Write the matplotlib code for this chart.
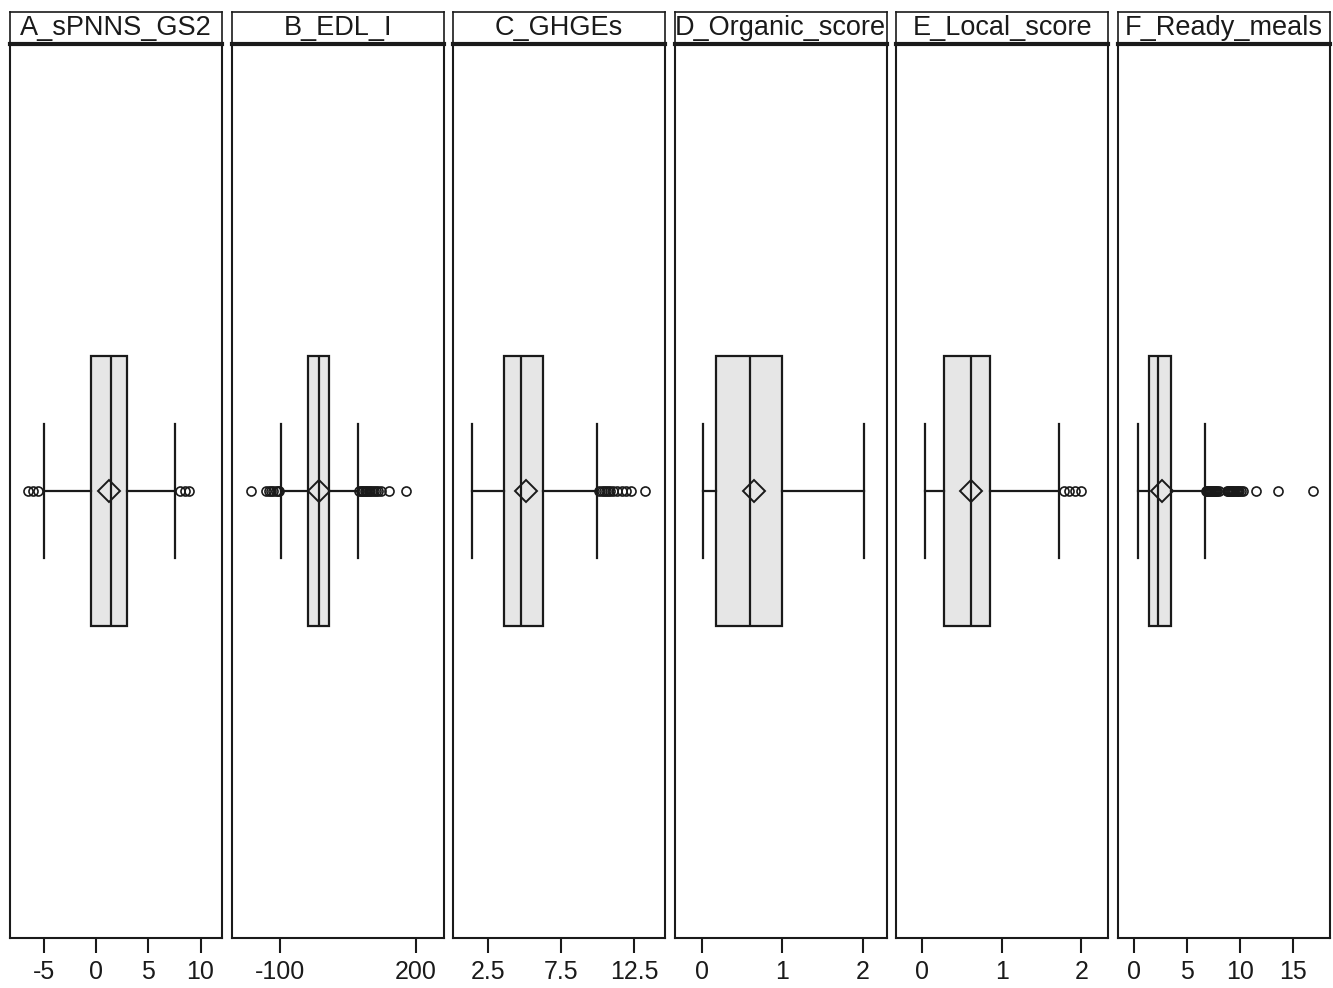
import matplotlib
matplotlib.use("Agg")
import matplotlib.pyplot as plt
from matplotlib import font_manager

# ---------------- data ----------------
panels = ["A_sPNNS_GS2", "B_EDL_I", "C_GHGEs", "D_Organic_score", "E_Local_score", "F_Ready_meals"]
q1 = [-0.5, -38.0, 3.6, 0.17, 0.28, 1.45]
medians = [1.4, -14.0, 4.75, 0.60, 0.62, 2.3]
q3 = [2.95, 8.0, 6.25, 1.0, 0.86, 3.55]
whisker_low = [-5.0, -98.0, 1.4, 0.01, 0.04, 0.4]
whisker_high = [7.55, 74.0, 9.95, 2.02, 1.72, 6.75]
means = [1.3, -14.0, 5.1, 0.65, 0.62, 2.7]
outliers_A = [-6.5, -6.0, -5.5, 8.0, 8.5, 8.9]
outliers_B = [-164.0, -129.0, -124.0, -119.0, -114.0, -109.0, -104.0, -101.0,
              76.0, 79.0, 82.0, 85.0, 88.0, 91.0, 94.0, 97.0, 100.0, 104.0,
              108.0, 113.0, 118.0, 123.0, 141.0, 179.5]
outliers_C = [10.1, 10.25, 10.4, 10.55, 10.7, 10.85, 11.0, 11.3, 11.65, 11.95, 12.25, 13.2]
outliers_D = []
outliers_E = [1.78, 1.85, 1.92, 2.0]
outliers_F = [6.8, 6.9, 7.0, 7.1, 7.2, 7.3, 7.4, 7.5, 7.6, 7.7, 7.8, 7.9, 8.0,
              8.8, 8.9, 9.0, 9.1, 9.2, 9.3, 9.4, 9.5, 9.6, 9.7, 9.8, 9.9, 10.1, 10.3,
              11.55, 13.6, 16.9]
outliers = [outliers_A, outliers_B, outliers_C, outliers_D, outliers_E, outliers_F]
tick_values = [[-5, 0, 5, 10], [-100, 200], [2.5, 7.5, 12.5], [0, 1, 2], [0, 1, 2], [0, 5, 10, 15]]
tick_labels = [["-5", "0", "5", "10"], ["-100", "200"], ["2.5", "7.5", "12.5"],
               ["0", "1", "2"], ["0", "1", "2"], ["0", "5", "10", "15"]]
x_limits = [(-8.2, 12.05), (-206, 262), (0.1, 14.6), (-0.34, 2.3), (-0.32, 2.34), (-1.47, 18.5)]

# ---------------- fonts ----------------
def has_font(name):
    try:
        font_manager.findfont(font_manager.FontProperties(family=name), fallback_to_default=False)
        return True
    except Exception:
        return False

if has_font("Liberation Sans Narrow"):
    fam = ["Liberation Sans Narrow", "DejaVu Sans"]
    title_fs, tick_fs = 23, 21
else:
    fam = ["Liberation Sans", "DejaVu Sans"]
    title_fs, tick_fs = 19.5, 18

plt.rcParams["font.family"] = fam
plt.rcParams["axes.unicode_minus"] = False

W, H = 1333, 988
fig = plt.figure(figsize=(W / 100, H / 100), dpi=100)

ink = "#1a1a1a"
fill = "#e6e6e6"
left0, pw, gap = 10, 212, 9.6
top_px, hdr_bot_px, bot_px = 12, 44, 938

for i, name in enumerate(panels):
    x0 = left0 + i * (pw + gap)
    ax = fig.add_axes([x0 / W, (H - bot_px) / H, pw / W, (bot_px - hdr_bot_px) / H])
    stats = [{
        "med": medians[i], "q1": q1[i], "q3": q3[i],
        "whislo": whisker_low[i], "whishi": whisker_high[i],
        "mean": means[i], "fliers": outliers[i], "label": "",
    }]
    ax.bxp(stats, positions=[1], widths=[0.604], capwidths=[0.302],
           orientation="horizontal", showmeans=True, patch_artist=True,
           boxprops=dict(facecolor=fill, edgecolor=ink, linewidth=1.6),
           medianprops=dict(color=ink, linewidth=1.6),
           whiskerprops=dict(color=ink, linewidth=1.6),
           capprops=dict(color=ink, linewidth=1.6),
           meanprops=dict(marker="D", markersize=11, markerfacecolor="none",
                          markeredgecolor=ink, markeredgewidth=1.4),
           flierprops=dict(marker="o", markersize=6.5, markerfacecolor="none",
                           markeredgecolor=ink, markeredgewidth=1.2))
    ax.set_ylim(0, 2)
    ax.set_xlim(*x_limits[i])
    ax.set_yticks([])
    ax.set_xticks(tick_values[i])
    ax.set_xticklabels(tick_labels[i])
    ax.tick_params(axis="x", direction="out", length=11, width=1.5, color=ink,
                   labelsize=tick_fs, labelcolor=ink, pad=5)
    for s in ax.spines.values():
        s.set_linewidth(1.5)
        s.set_color(ink)

    hx = fig.add_axes([x0 / W, (H - hdr_bot_px) / H, pw / W, (hdr_bot_px - top_px) / H])
    hx.set_xticks([])
    hx.set_yticks([])
    for s in hx.spines.values():
        s.set_linewidth(1.2)
        s.set_color(ink)
    hx.spines["bottom"].set_linewidth(3.0)
    hx.text(0.5, 0.27, name, ha="center", va="baseline", fontsize=title_fs,
            color=ink, transform=hx.transAxes)

fig.savefig("out.png", dpi=100)
